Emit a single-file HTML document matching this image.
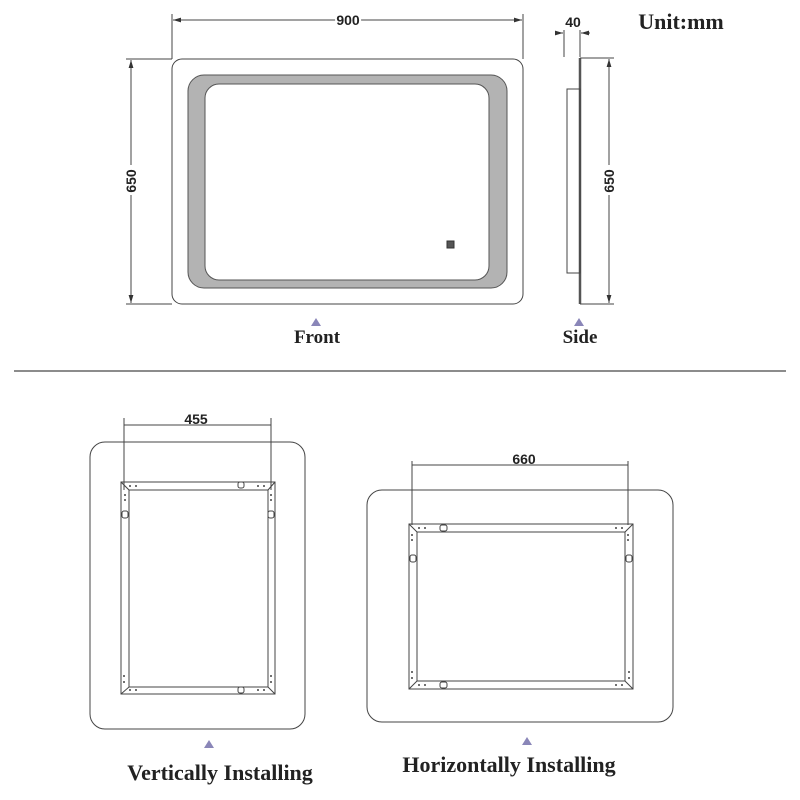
<!DOCTYPE html>
<html><head><meta charset="utf-8"><style>
html,body{margin:0;padding:0;background:#fff;width:800px;height:800px;overflow:hidden}
svg{display:block}
.dim{font-family:"Liberation Sans",sans-serif;font-weight:bold;font-size:14px;fill:#222}
.lbl{font-family:"Liberation Serif",serif;font-weight:bold;fill:#222}
</style></head><body>
<svg width="800" height="800" viewBox="0 0 800 800" xmlns="http://www.w3.org/2000/svg">
<defs>
<marker id="ar" viewBox="0 0 10 10" refX="10" refY="5" markerWidth="8" markerHeight="8" orient="auto-start-reverse" markerUnits="userSpaceOnUse"><path d="M0,2 L10,5 L0,8 z" fill="#333"/></marker>
</defs>
<g fill="none" stroke="#444" stroke-width="1">
<rect x="172" y="59" width="351" height="245" rx="10"/>
<rect x="188" y="75" width="319" height="213" rx="16" fill="#b3b3b3" stroke="#555"/>
<rect x="205" y="84" width="284" height="196" rx="14" fill="#fff" stroke="#555"/>
<rect x="447" y="241" width="7" height="7" fill="#555" stroke="#333"/>
<line x1="172" y1="14" x2="172" y2="59"/>
<line x1="523" y1="14" x2="523" y2="59"/>
<line x1="173" y1="20" x2="522" y2="20" marker-start="url(#ar)" marker-end="url(#ar)"/>
<line x1="126" y1="59" x2="172" y2="59"/>
<line x1="126" y1="304" x2="172" y2="304"/>
<line x1="131" y1="60" x2="131" y2="303" marker-start="url(#ar)" marker-end="url(#ar)"/>
<line x1="580" y1="58" x2="580" y2="304" stroke-width="2.5" stroke="#555"/>
<rect x="567" y="89" width="13" height="184"/>
<line x1="564" y1="30" x2="564" y2="57"/>
<line x1="580" y1="30" x2="580" y2="57"/>
<line x1="555" y1="33" x2="563" y2="33" marker-end="url(#ar)"/>
<line x1="590" y1="33" x2="581" y2="33" marker-end="url(#ar)"/>
<line x1="580" y1="58" x2="614" y2="58"/>
<line x1="580" y1="304" x2="614" y2="304"/>
<line x1="609" y1="59" x2="609" y2="303" marker-start="url(#ar)" marker-end="url(#ar)"/>
</g>
<rect x="125" y="165" width="12" height="30" fill="#fff"/>
<rect x="603" y="165" width="12" height="30" fill="#fff"/>
<text class="dim" x="348" y="25" text-anchor="middle" style="paint-order:stroke" stroke="#fff" stroke-width="4">900</text>
<text class="dim" transform="translate(136,181) rotate(-90)" text-anchor="middle">650</text>
<text class="dim" transform="translate(614,181) rotate(-90)" text-anchor="middle">650</text>
<text class="dim" x="573" y="27" text-anchor="middle">40</text>
<text class="lbl" x="681" y="29" text-anchor="middle" font-size="22">Unit:mm</text>
<polygon points="316,318 321,326 311,326" fill="#8a86b8"/>
<text class="lbl" x="317" y="343" text-anchor="middle" font-size="19">Front</text>
<polygon points="579,318 584,326 574,326" fill="#8a86b8"/>
<text class="lbl" x="580" y="343" text-anchor="middle" font-size="19">Side</text>
<line x1="14" y1="371" x2="786" y2="371" stroke="#666" stroke-width="1.5"/>

<g fill="none" stroke="#444" stroke-width="1">
<rect x="90" y="442" width="215" height="287" rx="15"/>
<rect x="121" y="482" width="154" height="212"/>
<rect x="129" y="490" width="139" height="197"/>
<line x1="121" y1="482" x2="129" y2="490"/><line x1="275" y1="482" x2="268" y2="490"/>
<line x1="121" y1="694" x2="129" y2="687"/><line x1="275" y1="694" x2="268" y2="687"/>
<line x1="124" y1="418" x2="124" y2="490"/>
<line x1="271" y1="418" x2="271" y2="490"/>
<line x1="124" y1="425" x2="271" y2="425"/>
<rect x="238" y="482" width="6" height="6" rx="2"/>
<rect x="238" y="687" width="6" height="6" rx="2"/>
<rect x="122" y="511" width="6" height="7" rx="2"/>
<rect x="268" y="511" width="6" height="7" rx="2"/>
<rect x="367" y="490" width="306" height="232" rx="15"/>
<rect x="409" y="524" width="224" height="165"/>
<rect x="417" y="532" width="208" height="149"/>
<line x1="409" y1="524" x2="417" y2="532"/><line x1="633" y1="524" x2="625" y2="532"/>
<line x1="409" y1="689" x2="417" y2="681"/><line x1="633" y1="689" x2="625" y2="681"/>
<line x1="412" y1="461" x2="412" y2="525"/>
<line x1="628" y1="461" x2="628" y2="525"/>
<line x1="412" y1="465" x2="628" y2="465"/>
<rect x="440" y="525" width="7" height="6" rx="2"/>
<rect x="440" y="682" width="7" height="6" rx="2"/>
<rect x="410" y="555" width="6" height="7" rx="2"/>
<rect x="626" y="555" width="6" height="7" rx="2"/>
</g>
<g fill="#444">
<circle cx="130" cy="486" r="1"/><circle cx="136" cy="486" r="1"/>
<circle cx="258" cy="486" r="1"/><circle cx="264" cy="486" r="1"/>
<circle cx="125" cy="495" r="1"/><circle cx="125" cy="500" r="1"/>
<circle cx="271" cy="495" r="1"/><circle cx="271" cy="500" r="1"/>
<circle cx="130" cy="690" r="1"/><circle cx="136" cy="690" r="1"/>
<circle cx="258" cy="690" r="1"/><circle cx="264" cy="690" r="1"/>
<circle cx="124" cy="676" r="1"/><circle cx="124" cy="682" r="1"/>
<circle cx="271" cy="676" r="1"/><circle cx="271" cy="682" r="1"/>
<circle cx="419" cy="528" r="1"/><circle cx="425" cy="528" r="1"/>
<circle cx="616" cy="528" r="1"/><circle cx="622" cy="528" r="1"/>
<circle cx="412" cy="535" r="1"/><circle cx="412" cy="540" r="1"/>
<circle cx="628" cy="535" r="1"/><circle cx="628" cy="540" r="1"/>
<circle cx="419" cy="685" r="1"/><circle cx="425" cy="685" r="1"/>
<circle cx="616" cy="685" r="1"/><circle cx="622" cy="685" r="1"/>
<circle cx="412" cy="672" r="1"/><circle cx="412" cy="678" r="1"/>
<circle cx="629" cy="672" r="1"/><circle cx="629" cy="678" r="1"/>
</g>
<text class="dim" x="196" y="424" text-anchor="middle">455</text>
<text class="dim" x="524" y="464" text-anchor="middle">660</text>
<polygon points="209,740 214,748 204,748" fill="#8a86b8"/>
<text class="lbl" x="220" y="780" text-anchor="middle" font-size="22">Vertically Installing</text>
<polygon points="527,737 532,745 522,745" fill="#8a86b8"/>
<text class="lbl" x="509" y="772" text-anchor="middle" font-size="22">Horizontally Installing</text>
</svg>
</body></html>
